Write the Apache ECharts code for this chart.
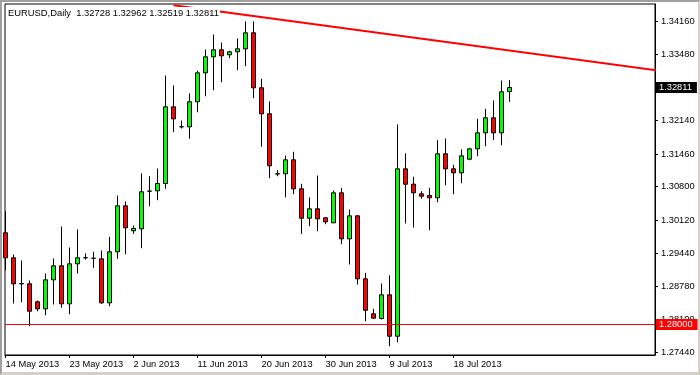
<!DOCTYPE html>
<html>
<head>
<meta charset="utf-8">
<script src="https://cdn.jsdelivr.net/npm/echarts@6/dist/echarts.min.js"></script>
<style>
html,body{margin:0;padding:0;background:#fff;}
#wrap{position:relative;width:700px;height:375px;overflow:hidden;}
#chart{position:absolute;left:0;top:0;width:700px;height:375px;}
#frame{position:absolute;left:0;top:0;width:700px;height:375px;box-sizing:border-box;border-style:solid;border-width:2px 2px 3px 2px;border-color:#a0a0a0 #d4d0c8 #d4d0c8 #a0a0a0;pointer-events:none;}
</style>
</head>
<body>
<div id="wrap"><div id="chart"></div><div id="frame"></div></div>
<script>
// ---- data ----
const symbolName = "EURUSD";
const periodName = "Daily";
const dates = [
  "2013-05-14","2013-05-15","2013-05-16","2013-05-17","2013-05-19","2013-05-20","2013-05-21","2013-05-22",
  "2013-05-23","2013-05-24","2013-05-26","2013-05-27","2013-05-28","2013-05-29","2013-05-30","2013-05-31",
  "2013-06-02","2013-06-03","2013-06-04","2013-06-05","2013-06-06","2013-06-07","2013-06-09","2013-06-10",
  "2013-06-11","2013-06-12","2013-06-13","2013-06-14","2013-06-16","2013-06-17","2013-06-18","2013-06-19",
  "2013-06-20","2013-06-21","2013-06-23","2013-06-24","2013-06-25","2013-06-26","2013-06-27","2013-06-28",
  "2013-06-30","2013-07-01","2013-07-02","2013-07-03","2013-07-04","2013-07-05","2013-07-07","2013-07-08",
  "2013-07-09","2013-07-10","2013-07-11","2013-07-12","2013-07-14","2013-07-15","2013-07-16","2013-07-17",
  "2013-07-18","2013-07-19","2013-07-21","2013-07-22","2013-07-23","2013-07-24","2013-07-25","2013-07-26"
];
const opens = [
  1.29861,1.29354,1.28826,1.28826,1.28461,1.28318,1.28907,1.29191,
  1.28420,1.29232,1.29354,1.29346,1.29333,1.28440,1.29476,1.30409,
  1.29902,1.29943,1.30706,1.30714,1.30862,1.32419,1.32013,1.32013,
  1.32521,1.33109,1.33434,1.33576,1.33475,1.33536,1.33596,1.33921,
  1.32805,1.32277,1.31055,1.31059,1.31343,1.30754,1.30158,1.30348,
  1.30166,1.30064,1.30673,1.29739,1.30206,1.28927,1.28217,1.28122,
  1.28603,1.27762,1.31160,1.30848,1.30653,1.30618,1.30572,1.31465,
  1.31160,1.31079,1.31355,1.31566,1.31891,1.32196,1.31891,1.32728
];
const closes = [
  1.29354,1.28826,1.28830,1.28270,1.28318,1.28907,1.29191,1.28420,
  1.29232,1.29354,1.29356,1.29344,1.28440,1.29476,1.30409,1.29963,
  1.29949,1.30694,1.30708,1.30862,1.32419,1.32175,1.32015,1.32521,
  1.33109,1.33434,1.33576,1.33454,1.33536,1.33596,1.33921,1.32805,
  1.32277,1.31221,1.31059,1.31343,1.30754,1.30158,1.30348,1.30145,
  1.30085,1.30673,1.29739,1.30206,1.28927,1.28290,1.28128,1.28603,
  1.27762,1.31160,1.30848,1.30673,1.30604,1.30572,1.31465,1.31160,
  1.31079,1.31424,1.31566,1.31891,1.32196,1.31891,1.32724,1.32811
];
const lows = [
  1.29102,1.28426,1.28452,1.27965,1.28270,1.28189,1.28406,1.28339,
  1.28209,1.29035,1.29319,1.29151,1.28420,1.28371,1.29333,1.29427,
  1.29841,1.29549,1.30401,1.30523,1.30754,1.31903,1.31979,1.31769,
  1.32309,1.32634,1.32756,1.32918,1.33406,1.33162,1.33243,1.32594,
  1.31607,1.30970,1.31010,1.30584,1.30645,1.29841,1.29995,1.29894,
  1.30036,1.30060,1.29630,1.29218,1.28812,1.28067,1.28120,1.28101,
  1.27559,1.27640,1.30050,1.29969,1.30551,1.29914,1.30482,1.30828,
  1.30645,1.30868,1.31335,1.31416,1.31619,1.31741,1.31640,1.32519
];
const highs = [
  1.30300,1.29421,1.29299,1.28893,1.28487,1.29035,1.29340,1.29989,
  1.29563,1.29928,1.29441,1.29476,1.29502,1.29780,1.30618,1.30497,
  1.30009,1.31065,1.31010,1.31167,1.33054,1.32851,1.32141,1.32689,
  1.33150,1.33582,1.33887,1.33724,1.33556,1.33806,1.34151,1.34151,
  1.32987,1.32527,1.31132,1.31430,1.31506,1.30856,1.30578,1.31024,
  1.30170,1.30720,1.30775,1.30334,1.30215,1.29049,1.28318,1.28832,
  1.29001,1.32060,1.31477,1.30998,1.30706,1.30775,1.31741,1.31776,
  1.31242,1.31552,1.31587,1.32175,1.32378,1.32547,1.32953,1.32962
];
const dateLabelIdx = [0, 8, 16, 24, 32, 40, 48, 56];
const priceTicks = [1.27440, 1.28100, 1.28780, 1.29440, 1.30120, 1.30800, 1.31460, 1.32140, 1.32800, 1.33480, 1.34160];
const supportLevel = 1.28000;
const trendX = [21, 82];
const trendY = [1.34482, 1.33144];
const yMin = 1.27381, yMax = 1.34506;
const xMin = -0.0625, xMax = 81.1875;

// ---- chart ----
const FONT = '"Liberation Sans", Arial, sans-serif';
const MONTHS = ["Jan","Feb","Mar","Apr","May","Jun","Jul","Aug","Sep","Oct","Nov","Dec"];
function fmtDate(s) {
  if (!s) return "";
  const p = s.split("-");
  return parseInt(p[2], 10) + " " + MONTHS[parseInt(p[1], 10) - 1] + " " + p[0];
}
const last = closes.length - 1;
const titleText = symbolName + "," + periodName + "  " +
  [opens[last], highs[last], lows[last], closes[last]].map(v => v.toFixed(5)).join(" ");

const candleData = dates.map((d, i) => [i, opens[i], closes[i], lows[i], highs[i]]);

function priceLine(value, lineColor, lineWidth, boxColor) {
  return {
    type: 'line',
    data: [[xMin, value], [xMax, value]],
    symbol: 'none', silent: true, clip: false, z: 5,
    lineStyle: {color: lineColor, width: lineWidth},
    endLabel: {
      show: true, distance: 1, formatter: () => value.toFixed(5),
      color: '#fff', backgroundColor: boxColor, padding: [1, 5, 0, 3], lineHeight: 10,
      fontFamily: FONT, fontSize: 9.3
    }
  };
}

const chart = echarts.init(document.getElementById('chart'), null, {renderer: 'canvas'});
chart.setOption({
  animation: false,
  backgroundColor: '#fff',
  title: {
    text: titleText, left: 7, top: 7, padding: [0, 1],
    backgroundColor: '#fff', z: 10,
    textStyle: {fontFamily: FONT, fontSize: 9.4, fontWeight: 'normal', color: '#000', lineHeight: 12}
  },
  grid: {left: 5, right: 45, top: 4, bottom: 20, show: true, borderColor: '#000', borderWidth: 1, backgroundColor: '#fff'},
  xAxis: {
    type: 'value', min: xMin, max: xMax, position: 'bottom',
    axisLine: {show: true, onZero: false, lineStyle: {color: '#000', width: 1}},
    axisTick: {show: true, length: 3, customValues: dateLabelIdx, lineStyle: {color: '#000'}},
    axisLabel: {customValues: dateLabelIdx, formatter: v => fmtDate(dates[Math.round(v)]),
      align: 'left', margin: 5, color: '#000', fontFamily: FONT, fontSize: 9.3},
    splitLine: {show: false}
  },
  yAxis: {
    type: 'value', position: 'right', min: yMin, max: yMax,
    axisLine: {show: true, onZero: false, lineStyle: {color: '#000', width: 1}},
    axisTick: {show: true, length: 3, customValues: priceTicks, lineStyle: {color: '#000'}},
    axisLabel: {customValues: priceTicks, formatter: v => v.toFixed(5), margin: 6,
      color: '#000', fontFamily: FONT, fontSize: 9.3},
    splitLine: {show: false}
  },
  series: [
    {
      type: 'candlestick',
      data: candleData,
      encode: {x: 0, y: [1, 2, 3, 4]},
      barWidth: 4,
      clip: true,
      itemStyle: {
        color: '#00ff00', color0: '#ff0000',
        borderColor: '#000', borderColor0: '#000', borderColorDoji: '#000', borderWidth: 1
      }
    },
    priceLine(supportLevel, '#ff0000', 1, '#ff0000'),
    priceLine(closes[last], 'rgba(0,0,0,0)', 0, '#000000'),
    {
      type: 'line',
      data: trendX.map((x, i) => [x, trendY[i]]),
      symbol: 'none', clip: true, silent: true,
      lineStyle: {color: '#ff0000', width: 2}
    }
  ]
});
</script>
</body>
</html>
